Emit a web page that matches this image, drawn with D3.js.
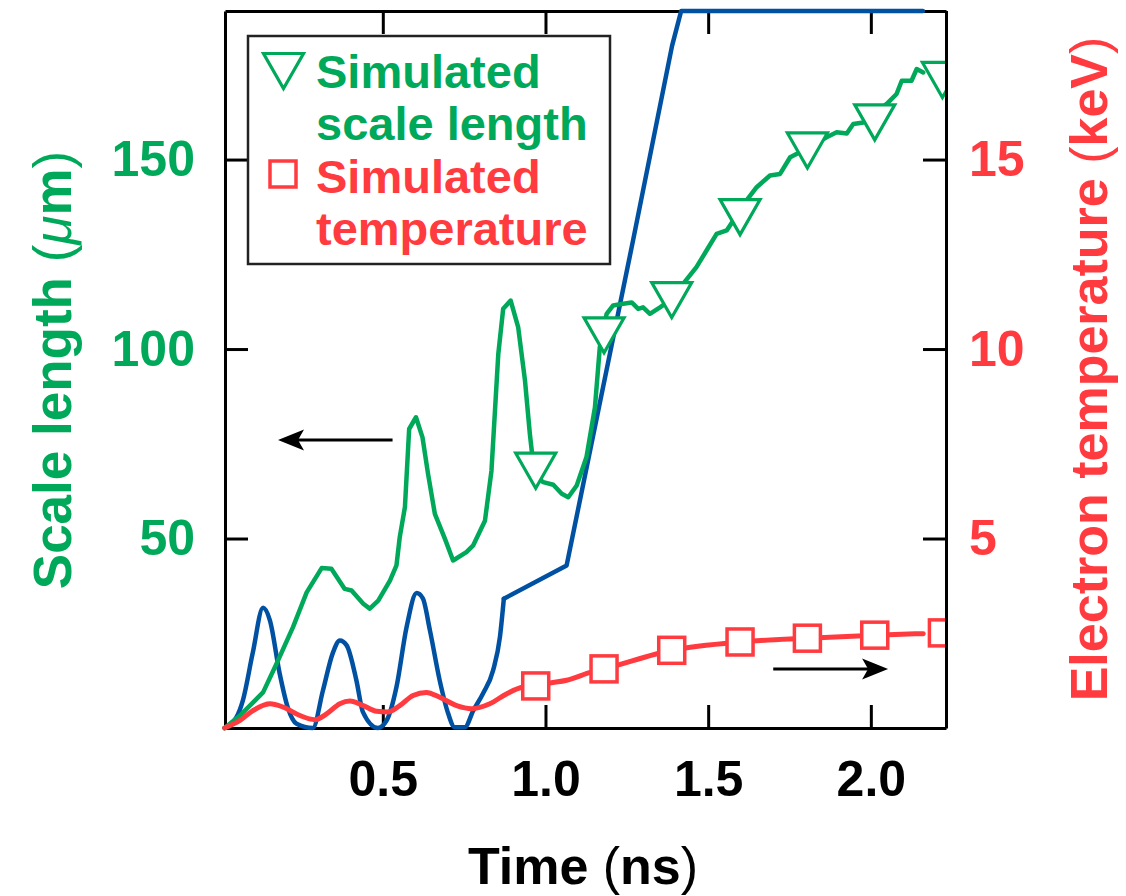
<!DOCTYPE html>
<html>
<head>
<meta charset="utf-8">
<script src="https://cdn.jsdelivr.net/npm/d3@7"></script>
<style>
  html, body { margin: 0; padding: 0; background: #fff; }
  svg { display: block; }
  text { font-family: "Liberation Sans", Arial, Helvetica, sans-serif; font-weight: bold; }
</style>
</head>
<body>
<svg width="1126" height="896"></svg>
<script>
// values: [time (ns), value]
const timeTicks = [0.5, 1.0, 1.5, 2.0];
const lengthTicks = [50, 100, 150];
const tempTicks = [5, 10, 15];

// unlabelled blue trace (left axis units, clipped at top of frame)
const blueTrace = [
  [0.014, 0], [0.050, 2.8], [0.070, 7.3], [0.100, 19.7], [0.132, 31.7], [0.153, 28.4],
  [0.183, 14.4], [0.208, 5.4], [0.235, 1.1], [0.285, 0], [0.316, 9.9], [0.346, 19.7],
  [0.368, 23.1], [0.389, 21.8], [0.419, 12.5], [0.439, 4.2], [0.485, 0], [0.512, 2],
  [0.542, 10.8], [0.573, 26.6], [0.604, 35.6], [0.623, 34.2], [0.645, 25.7], [0.675, 12.5],
  [0.701, 3.8], [0.721, 0.2], [0.752, 0.2], [0.778, 4.6], [0.808, 9.1], [0.839, 15.2],
  [0.860, 24], [0.872, 34.1], [1.065, 42.9], [1.269, 128.6], [1.389, 180], [1.417, 189.2],
  [2.160, 189.2]
];
// after this time the blue trace is made of straight segments
const blueRampStart = 0.872;

// simulated scale length (um)
const scaleLength = [
  [0.014, 0], [0.061, 3.3], [0.132, 9.4], [0.173, 16.9], [0.224, 26.6], [0.266, 35.8],
  [0.312, 42.2], [0.342, 42.0], [0.383, 36.7], [0.404, 36.3], [0.440, 32.8], [0.460, 31.5],
  [0.486, 33.6], [0.522, 38.9], [0.542, 42.9], [0.552, 50.3], [0.568, 58.3], [0.581, 78.9],
  [0.602, 82.0], [0.622, 76.7], [0.639, 67.1], [0.660, 56.5], [0.691, 49.9], [0.716, 44.2],
  [0.757, 46.4], [0.778, 48.2], [0.814, 54.7], [0.834, 67.9], [0.855, 98.7], [0.870, 110.6],
  [0.893, 112.8], [0.916, 105.8], [0.937, 91.7], [0.952, 77.6], [0.967, 66.2], [0.993, 64.9],
  [1.024, 64.2], [1.050, 61.8], [1.070, 60.9], [1.096, 64.0], [1.126, 71.5], [1.152, 84.6],
  [1.167, 100.5], [1.188, 109.3], [1.208, 111.5], [1.234, 111.9], [1.265, 112.3], [1.285, 110.6],
  [1.300, 111.0], [1.321, 109.3], [1.352, 111.0], [1.382, 112.8], [1.423, 117.2], [1.464, 121.6],
  [1.495, 126.0], [1.526, 130.4], [1.557, 131.3], [1.618, 139.2], [1.649, 142.7], [1.690, 145.8],
  [1.721, 146.2], [1.752, 150.6], [1.782, 151.9], [1.864, 155.9], [1.895, 157.2], [1.926, 156.9],
  [1.946, 159.4], [1.977, 159.8], [2.049, 164.7], [2.079, 167.3], [2.095, 170.8], [2.125, 170.8],
  [2.141, 173.9], [2.161, 173.0]
];
const scaleLengthMarks = [
  [0.970, 67.9], [1.180, 103.6], [1.388, 112.9], [1.598, 134.8], [1.805, 152.4], [2.012, 159.8], [2.220, 171.0]
];

// simulated electron temperature (keV)
const temperature = [
  [0.014, 0], [0.061, 0.20], [0.101, 0.46], [0.153, 0.64], [0.194, 0.55], [0.245, 0.33],
  [0.291, 0.22], [0.327, 0.37], [0.368, 0.64], [0.399, 0.71], [0.440, 0.59], [0.481, 0.44],
  [0.516, 0.42], [0.552, 0.59], [0.593, 0.86], [0.634, 0.94], [0.675, 0.81], [0.727, 0.59],
  [0.773, 0.51], [0.829, 0.64], [0.880, 0.90], [0.931, 1.08], [0.970, 1.11], [1.008, 1.18],
  [1.065, 1.26], [1.142, 1.48], [1.180, 1.56], [1.388, 2.05], [1.598, 2.27], [1.805, 2.37],
  [2.012, 2.45], [2.161, 2.49]
];
const temperatureMarks = [
  [0.970, 1.11], [1.180, 1.56], [1.388, 2.05], [1.598, 2.27], [1.805, 2.37], [2.012, 2.45], [2.220, 2.51]
];

const green = "#00a85a";
const red = "#ff3b40";
const blue = "#0051a2";

const svg = d3.select("svg");
const plotLeft = 225, plotRight = 946, plotTop = 11, plotBottom = 728;

const x = d3.scaleLinear().domain([0.015, 2.231]).range([plotLeft, plotRight]);
const yL = d3.scaleLinear().domain([0, 189.2]).range([plotBottom, plotTop]).clamp(true);
const yR = d3.scaleLinear().domain([0, 18.92]).range([plotBottom, plotTop]);

function styleAxis(g, color) {
  g.selectAll("path, line").attr("stroke", "#000").attr("stroke-width", 3);
  g.selectAll("text").attr("fill", color).style("font-size", "50px");
}

svg.append("g")
  .attr("transform", `translate(0,${plotBottom})`)
  .call(d3.axisBottom(x).tickValues(timeTicks).tickSizeInner(-23).tickSizeOuter(0)
    .tickPadding(32).tickFormat(d3.format(".1f")))
  .call(styleAxis, "#000");

svg.append("g")
  .attr("transform", `translate(0,${plotTop})`)
  .call(d3.axisTop(x).tickValues(timeTicks).tickSizeInner(-23).tickSizeOuter(0).tickFormat(""))
  .call(styleAxis, "#000");

svg.append("g")
  .attr("transform", `translate(${plotLeft},0)`)
  .call(d3.axisLeft(yL).tickValues(lengthTicks).tickSizeInner(-23).tickSizeOuter(0)
    .tickPadding(30).tickFormat(d3.format("d")))
  .call(styleAxis, green);

svg.append("g")
  .attr("transform", `translate(${plotRight},0)`)
  .call(d3.axisRight(yR).tickValues(tempTicks).tickSizeInner(-23).tickSizeOuter(0)
    .tickPadding(23).tickFormat(d3.format("d")))
  .call(styleAxis, red);

// curves
const lineL = d3.line().x(d => x(d[0])).y(d => yL(d[1]));
const lineR = d3.line().x(d => x(d[0])).y(d => yR(d[1]));

const blueParts = [
  [blueTrace.filter(d => d[0] <= blueRampStart), d3.curveMonotoneX],
  [blueTrace.filter(d => d[0] >= blueRampStart), d3.curveLinear]
];
blueParts.forEach(([pts, curve]) => {
  svg.append("path").datum(pts)
    .attr("d", lineL.curve(curve))
    .attr("fill", "none").attr("stroke", blue).attr("stroke-width", 4.5)
    .attr("stroke-linejoin", "round").attr("stroke-linecap", "round");
});

svg.append("path").datum(scaleLength)
  .attr("d", lineL.curve(d3.curveLinear))
  .attr("fill", "none").attr("stroke", green).attr("stroke-width", 4.5)
  .attr("stroke-linejoin", "round").attr("stroke-linecap", "round");

svg.append("path").datum(temperature)
  .attr("d", lineR.curve(d3.curveMonotoneX))
  .attr("fill", "none").attr("stroke", red).attr("stroke-width", 5)
  .attr("stroke-linejoin", "round").attr("stroke-linecap", "round");

// markers, clipped to the frame
svg.append("clipPath").attr("id", "plot-clip")
  .append("rect").attr("x", plotLeft).attr("y", plotTop)
  .attr("width", plotRight - plotLeft).attr("height", plotBottom - plotTop);

const tri = "M-20,-17.5L20,-17.5L0,17.5Z";
const marks = svg.append("g").attr("clip-path", "url(#plot-clip)");

marks.selectAll(".tri").data(scaleLengthMarks).join("path")
  .attr("class", "tri")
  .attr("d", tri)
  .attr("transform", d => `translate(${x(d[0])},${yL(d[1])})`)
  .attr("fill", "#fff").attr("stroke", green).attr("stroke-width", 3.2);

marks.selectAll(".sq").data(temperatureMarks).join("rect")
  .attr("class", "sq")
  .attr("x", d => x(d[0]) - 13).attr("y", d => yR(d[1]) - 13)
  .attr("width", 26).attr("height", 26)
  .attr("fill", "#fff").attr("stroke", red).attr("stroke-width", 3.5);

// redraw the right frame edge over the clipped markers
svg.append("line").attr("x1", plotRight + 0.5).attr("x2", plotRight + 0.5)
  .attr("y1", plotTop).attr("y2", plotBottom)
  .attr("stroke", "#000").attr("stroke-width", 3);

// axis arrows
function arrow(x0, x1, yy) {
  const dir = x1 > x0 ? 0 : 180;
  svg.append("line").attr("x1", x0).attr("x2", x1 + (x1 > x0 ? -15 : 15))
    .attr("y1", yy).attr("y2", yy)
    .attr("stroke", "#000").attr("stroke-width", 3);
  svg.append("path").attr("d", "M0,0L-26,-10.5L-20,0L-26,10.5Z")
    .attr("transform", `translate(${x1},${yy}) rotate(${dir})`)
    .attr("fill", "#000");
}
arrow(x(0.530), x(0.178), yL(76.0));
arrow(x(1.700), x(2.053), yR(1.56));

// legend
const legendBox = { x: 248, y: 36, w: 362, h: 228 };
svg.append("rect").attr("x", legendBox.x).attr("y", legendBox.y)
  .attr("width", legendBox.w).attr("height", legendBox.h)
  .attr("fill", "#fff").attr("stroke", "#222").attr("stroke-width", 2.5);

svg.append("path").attr("d", tri)
  .attr("transform", "translate(283.5,71)")
  .attr("fill", "#fff").attr("stroke", green).attr("stroke-width", 3.2);
svg.append("rect").attr("x", 270).attr("y", 161).attr("width", 26).attr("height", 26)
  .attr("fill", "#fff").attr("stroke", red).attr("stroke-width", 3.5);

const legendLines = [
  ["Simulated", green, 88],
  ["scale length", green, 140],
  ["Simulated", red, 193],
  ["temperature", red, 245]
];
svg.selectAll(".leg").data(legendLines).join("text")
  .attr("class", "leg")
  .attr("x", 316).attr("y", d => d[2])
  .attr("fill", d => d[1])
  .style("font-size", "47px")
  .text(d => d[0]);

// axis titles
const xTitle = svg.append("text")
  .attr("x", 583).attr("y", 884)
  .attr("text-anchor", "middle").attr("fill", "#000")
  .style("font-size", "52px");
xTitle.append("tspan").text("Time ");
xTitle.append("tspan").style("font-weight", "normal").text("(");
xTitle.append("tspan").text("ns");
xTitle.append("tspan").style("font-weight", "normal").text(")");

const yTitle = svg.append("text")
  .attr("transform", "translate(71,370) rotate(-90)")
  .attr("text-anchor", "middle").attr("fill", green)
  .style("font-size", "53px");
yTitle.append("tspan").text("Scale length ");
yTitle.append("tspan").style("font-weight", "normal").text("(");
yTitle.append("tspan").style("font-weight", "normal").style("font-style", "italic").text("\u03bc");
yTitle.append("tspan").text("m");
yTitle.append("tspan").style("font-weight", "normal").text(")");

const rTitle = svg.append("text")
  .attr("transform", "translate(1107,369) rotate(-90)")
  .attr("text-anchor", "middle").attr("fill", red)
  .style("font-size", "52px");
rTitle.append("tspan").text("Electron temperature ");
rTitle.append("tspan").style("font-weight", "normal").text("(");
rTitle.append("tspan").text("keV");
rTitle.append("tspan").style("font-weight", "normal").text(")");
</script>
</body>
</html>
